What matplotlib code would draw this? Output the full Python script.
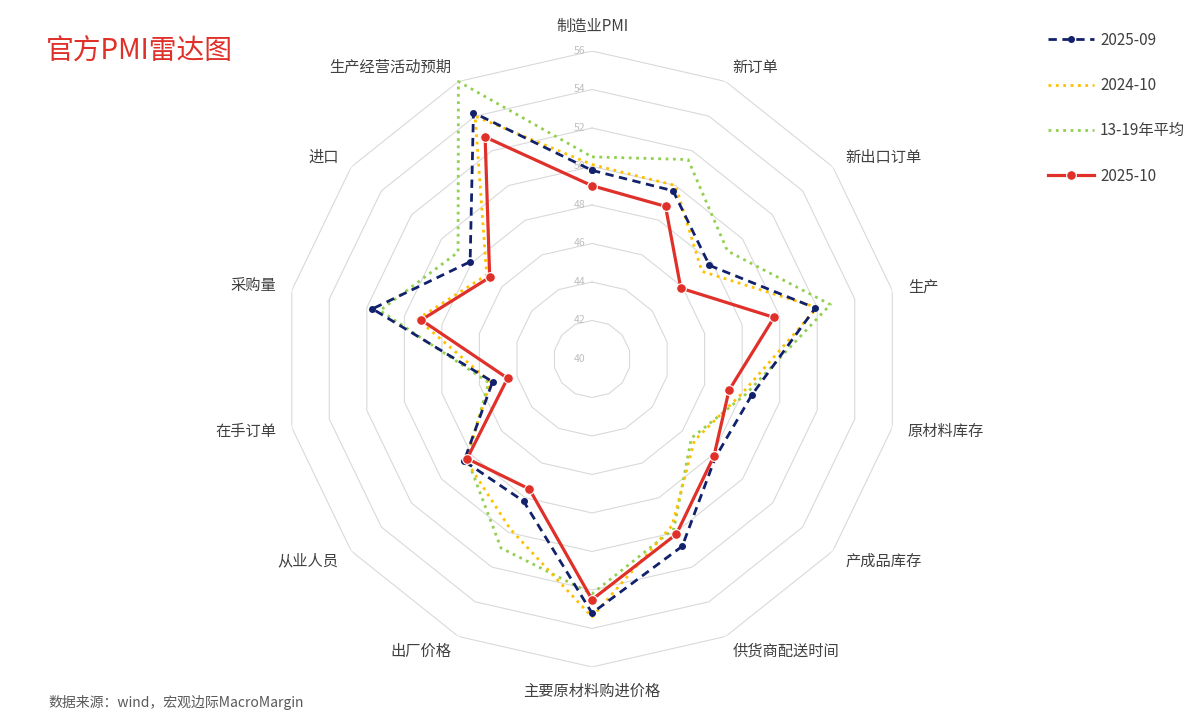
import numpy as np
import matplotlib
matplotlib.use("Agg")
from matplotlib import pyplot as plt
from matplotlib.lines import Line2D

plt.rcParams["font.family"] = ["Noto Sans CJK SC", "DejaVu Sans"]

# 指标（从正上方开始顺时针）
categories = ["制造业PMI", "新订单", "新出口订单", "生产", "原材料库存", "产成品库存",
              "供货商配送时间", "主要原材料购进价格", "出厂价格", "从业人员", "在手订单",
              "采购量", "进口", "生产经营活动预期"]

v_2509 = [49.8, 49.7, 47.8, 51.9, 48.5, 48.2, 50.8, 53.2, 48.2, 48.5, 45.3, 51.7, 48.1, 54.2]
v_2410 = [50.1, 50.0, 47.3, 52.0, 48.0, 46.8, 49.6, 53.4, 49.8, 48.4, 45.4, 49.3, 47.0, 54.0]
v_avg = [50.5, 51.5, 49.0, 52.7, 48.2, 46.6, 49.8, 52.2, 50.9, 48.3, 45.5, 51.3, 48.9, 56.0]
v_2510 = [49.0, 48.8, 45.9, 49.7, 47.3, 48.1, 50.1, 52.5, 47.5, 48.3, 44.5, 49.1, 46.8, 52.8]

ring_ticks = [40, 42, 44, 46, 48, 50, 52, 54, 56]

n = len(categories)
ang = np.linspace(0, 2 * np.pi, n, endpoint=False)
ang_c = np.append(ang, ang[0])


def close(v):
	return np.append(v, v[0])


fig = plt.figure(figsize=(12, 7.22), dpi=100)
ax = fig.add_axes([0.2367, 0.0762, 0.5133, 0.8532], projection="polar")
ax.set_theta_zero_location("N")
ax.set_theta_direction(-1)
ax.set_ylim(40, 56)
ax.grid(False)
ax.spines["polar"].set_visible(False)
ax.set_xticks([])
ax.set_yticks([])
ax.patch.set_alpha(0)

# 多边形网格
for r in ring_ticks[1:]:
	ax.plot(ang_c, [r] * (n + 1), color="#d9d9d9", lw=0.8, zorder=1)
for r in ring_ticks:
	ax.annotate(str(r), xy=(0, r), xytext=(-5, 0), textcoords="offset points",
				ha="right", va="center", fontsize=7.5, color="#bfbfbf", zorder=2)

# 系列
ax.plot(ang_c, close(v_avg), color="#92d050", ls=":", lw=2, zorder=3, clip_on=False)
ax.plot(ang_c, close(v_2410), color="#ffc000", ls=":", lw=2, zorder=4, clip_on=False)
ax.plot(ang_c, close(v_2509), color="#12216b", ls=(0, (3, 2)), lw=2, marker="o", ms=4,
		zorder=5, clip_on=False)
ax.plot(ang_c, close(v_2510), color="#e0302a", ls="-", lw=2.3, marker="o", ms=7,
		markeredgecolor="white", markeredgewidth=0.8, zorder=6, clip_on=False)

# 指标标签
r_lab = 56.83
for a, name in zip(ang, categories):
	s = np.sin(a)
	c = np.cos(a)
	if abs(s) < 0.05:
		ha = "center"
		va = "bottom" if c > 0 else "top"
	else:
		ha = "left" if s > 0 else "right"
		va = "center"
	ax.text(a, r_lab, name, ha=ha, va=va, fontsize=11, color="#404040", clip_on=False)

# 标题
fig.text(0.038, 0.928, "官方PMI雷达图", fontsize=20, color="#e0302a", ha="left", va="center")

# 图例
handles = [
	Line2D([], [], color="#12216b", ls=(0, (3, 2)), lw=2, marker="o", ms=4),
	Line2D([], [], color="#ffc000", ls=":", lw=2),
	Line2D([], [], color="#92d050", ls=":", lw=2),
	Line2D([], [], color="#e0302a", ls="-", lw=2.3, marker="o", ms=7,
		   markeredgecolor="white", markeredgewidth=0.8),
]
labels = ["2025-09", "2024-10", "13-19年平均", "2025-10"]
fig.legend(handles, labels, loc="upper left", bbox_to_anchor=(0.862, 0.975),
		   frameon=False, fontsize=11, labelspacing=1.85, handlelength=3.0,
		   handletextpad=0.4, labelcolor="#404040")

# 数据来源
fig.text(0.04, 0.027, "数据来源：wind，宏观边际MacroMargin", fontsize=10,
		 color="#595959", ha="left", va="center")

fig.savefig("out.png", dpi=100)
